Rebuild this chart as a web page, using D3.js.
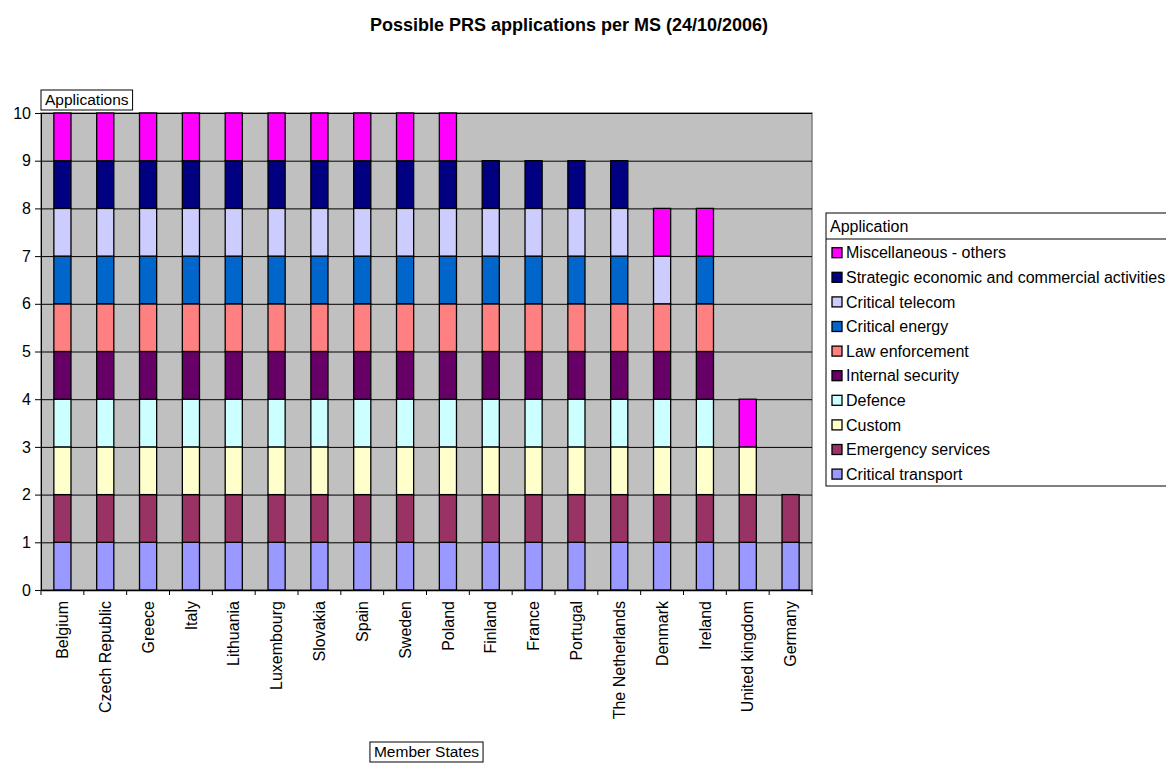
<!DOCTYPE html>
<html>
<head>
<meta charset="utf-8">
<script src="https://cdn.jsdelivr.net/npm/d3@7"></script>
<style>
  body { margin: 0; background: #fff; }
  text { font-family: Arial, "Liberation Sans", sans-serif; }
</style>
</head>
<body>
<div id="chart"></div>
<script>
// categories
var countries = ["Belgium", "Czech Republic", "Greece", "Italy", "Lithuania", "Luxembourg",
  "Slovakia", "Spain", "Sweden", "Poland", "Finland", "France", "Portugal",
  "The Netherlands", "Denmark", "Ireland", "United kingdom", "Germany"];

// series, bottom of the stack first
var applications = ["Critical transport", "Emergency services", "Custom", "Defence",
  "Internal security", "Law enforcement", "Critical energy", "Critical telecom",
  "Strategic economic and commercial activities", "Miscellaneous - others"];

var colors = ["#9999ff", "#993366", "#ffffcc", "#ccffff", "#660066",
  "#ff8080", "#0066cc", "#ccccff", "#000080", "#ff00ff"];

// values per series, one per country
var criticalTransport = [1,1,1,1,1,1,1,1,1,1,1,1,1,1,1,1,1,1];
var emergencyServices = [1,1,1,1,1,1,1,1,1,1,1,1,1,1,1,1,1,1];
var custom            = [1,1,1,1,1,1,1,1,1,1,1,1,1,1,1,1,1,0];
var defence           = [1,1,1,1,1,1,1,1,1,1,1,1,1,1,1,1,0,0];
var internalSecurity  = [1,1,1,1,1,1,1,1,1,1,1,1,1,1,1,1,0,0];
var lawEnforcement    = [1,1,1,1,1,1,1,1,1,1,1,1,1,1,1,1,0,0];
var criticalEnergy    = [1,1,1,1,1,1,1,1,1,1,1,1,1,1,0,1,0,0];
var criticalTelecom   = [1,1,1,1,1,1,1,1,1,1,1,1,1,1,1,0,0,0];
var strategic         = [1,1,1,1,1,1,1,1,1,1,1,1,1,1,0,0,0,0];
var miscellaneous     = [1,1,1,1,1,1,1,1,1,1,0,0,0,0,1,1,1,0];

var yTicks = [0,1,2,3,4,5,6,7,8,9,10];

var series = [criticalTransport, emergencyServices, custom, defence, internalSecurity,
  lawEnforcement, criticalEnergy, criticalTelecom, strategic, miscellaneous];

var table = countries.map(function(c, i) {
  var row = {country: c};
  applications.forEach(function(a, j) { row[a] = series[j][i]; });
  return row;
});

var W = 1166, H = 763;
var margin = {top: 113, left: 41},
    width = 812 - 41,
    height = 590 - 113;

var svg = d3.select("#chart").append("svg")
  .attr("width", W).attr("height", H);

// title
svg.append("text")
  .attr("x", 569).attr("y", 31)
  .attr("text-anchor", "middle")
  .style("font-size", "18px").style("font-weight", "bold")
  .text("Possible PRS applications per MS (24/10/2006)");

var g = svg.append("g")
  .attr("transform", "translate(" + margin.left + "," + margin.top + ")");

var x = d3.scaleBand().domain(countries).range([0, width]).padding(0);
var y = d3.scaleLinear().domain([0, 10]).range([height, 0]);

// plot area
g.append("rect")
  .attr("width", width).attr("height", height)
  .attr("fill", "#c0c0c0").attr("stroke", "#808080").attr("stroke-width", 1.5);

// gridlines
g.append("g")
  .call(d3.axisLeft(y).tickValues(yTicks).tickSize(-width).tickFormat(""))
  .call(function(s) { s.select(".domain").remove(); })
  .selectAll("line").attr("stroke", "#000").attr("stroke-width", 1);

// bars
var stack = d3.stack().keys(applications)(table);
var barW = x.bandwidth() * 0.4;

g.append("g").selectAll("g")
  .data(stack)
  .enter().append("g")
    .attr("fill", function(d, i) { return colors[i]; })
  .selectAll("rect")
  .data(function(d) { return d.filter(function(p) { return p[1] - p[0] > 0; }); })
  .enter().append("rect")
    .attr("x", function(d) { return x(d.data.country) + (x.bandwidth() - barW) / 2; })
    .attr("y", function(d) { return y(d[1]); })
    .attr("width", barW)
    .attr("height", function(d) { return y(d[0]) - y(d[1]); })
    .attr("stroke", "#000").attr("stroke-width", 1.3);

// y axis
var yAxis = g.append("g")
  .call(d3.axisLeft(y).tickValues(yTicks).tickSize(6).tickPadding(4).tickFormat(d3.format("d")));
yAxis.selectAll("text").style("font-size", "16px").attr("fill", "#000");
yAxis.select(".domain").attr("stroke", "#000");

// x axis: labels at band centres, ticks between categories
var xAxis = g.append("g")
  .attr("transform", "translate(0," + height + ")")
  .call(d3.axisBottom(x).tickSize(0).tickPadding(0));
xAxis.select(".domain").attr("stroke", "#000").attr("stroke-width", 1.3);
xAxis.selectAll("text")
  .style("font-size", "16px").attr("fill", "#000")
  .attr("text-anchor", "end")
  .attr("transform", "rotate(-90)")
  .attr("x", -11).attr("y", 0).attr("dy", "0.35em");

xAxis.selectAll(".sep")
  .data(countries.concat(["end"]))
  .enter().append("line")
    .attr("x1", function(d) { return d === "end" ? width : x(d); })
    .attr("x2", function(d) { return d === "end" ? width : x(d); })
    .attr("y1", 0).attr("y2", 5)
    .attr("stroke", "#000");

// axis titles in boxes
function boxedLabel(cx, cy, label, anchorLeft) {
  var box = svg.append("g");
  var r = box.append("rect");
  var t = box.append("text")
    .attr("y", cy).attr("dy", "0.35em")
    .style("font-size", "15.5px")
    .text(label);
  var w = t.node().getComputedTextLength();
  var left = anchorLeft ? cx : cx - w / 2 - 4;
  t.attr("x", left + 4);
  r.attr("x", left).attr("y", cy - 10)
    .attr("width", w + 8).attr("height", 20)
    .attr("fill", "#fff").attr("stroke", "#000");
}
boxedLabel(41, 100, "Applications", true);
boxedLabel(426.5, 752, "Member States", false);

// legend
var legend = svg.append("g");
legend.append("rect")
  .attr("x", 826).attr("y", 213).attr("width", 400).attr("height", 273)
  .attr("fill", "#fff").attr("stroke", "#000");
legend.append("line")
  .attr("x1", 826).attr("x2", 1226).attr("y1", 239).attr("y2", 239)
  .attr("stroke", "#000");
legend.append("text")
  .attr("x", 830).attr("y", 226).attr("dy", "0.35em")
  .style("font-size", "16px").text("Application");

var legendKeys = applications.slice().reverse();
var items = legend.selectAll(".item")
  .data(legendKeys)
  .enter().append("g")
    .attr("transform", function(d, i) { return "translate(0," + (252.7 + i * 24.6) + ")"; });
items.append("rect")
  .attr("x", 832).attr("y", -5).attr("width", 10).attr("height", 10)
  .attr("fill", function(d) { return colors[applications.indexOf(d)]; })
  .attr("stroke", "#000").attr("stroke-width", 1.3);
items.append("text")
  .attr("x", 846).attr("dy", "0.35em")
  .style("font-size", "16px")
  .text(function(d) { return d; });
</script>
</body>
</html>
